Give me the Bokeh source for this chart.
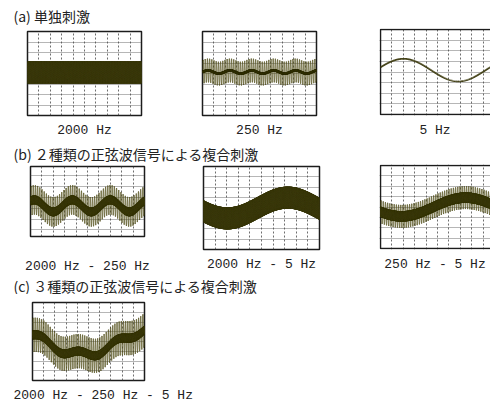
import numpy as np
from bokeh.plotting import figure
from bokeh.models import Grid, FixedTicker, Range1d, Title, Label, LinearAxis
from bokeh.layouts import column, row
from bokeh.embed import file_html
from bokeh.resources import INLINE

# ---------------- texts ----------------
section_titles = ["(a)  単独刺激",
                  "(b)  ２種類の正弦波信号による複合刺激",
                  "(c)  ３種類の正弦波信号による複合刺激"]
panel_labels = ["2000 Hz", "250 Hz", "5 Hz",
                "2000 Hz - 250 Hz", "2000 Hz - 5 Hz", "250 Hz - 5 Hz",
                "2000 Hz - 250 Hz - 5 Hz"]

# ---------------- oscilloscope graticule (10 x 8 divisions) ----------------
grid_x_ticks = [1, 2, 3, 4, 5, 6, 7, 8, 9]
grid_y_ticks = [-3, -2, -1, 0, 1, 2, 3]

# ---------------- signal parameters read from each screen ----------------
# amplitudes in divisions, cycles per full screen width (10 div)
stripe_cycles = 52      # 250 Hz component on screen
dense_cycles = 414      # 2000 Hz component on screen
dc_offset   = [0.10, 0.14, 0.18, 0.20, 0.00, 0.00, 0.00]
slow_amp    = [0.00, 0.00, 1.06, 0.00, 1.00, 0.90, 1.35]   # 5 Hz component
slow_cycles = [0.00, 0.00, 1.04, 0.00, 0.96, 0.89, 0.75]
slow_phase  = [0.00, 0.00, 0.25, 0.00, 3.47, 3.68, 2.62]
beat_amp    = [0.00, 0.15, 0.00, 0.55, 0.00, 0.00, 0.35]   # visible beat of the trace
beat_cycles = [0.0, 5.2, 0.0, 3.0, 0.0, 0.0, 3.0]
beat_phase  = [0.0, 0.0, 0.0, 0.94, 0.0, 0.0, 0.0]
stripe_amp  = [0.00, 1.13, 0.00, 1.35, 0.00, 1.10, 1.75]   # 250 Hz stripes
dense_amp   = [1.05, 0.12, 0.00, 0.40, 1.06, 0.50, 0.45]   # 2000 Hz band / core

INK_DARK = "#3b390d"
INK_STRIPE = "#57531f"
GRID_COLOR = "#4a4a4a"
FRAME_COLOR = "#1c1c1c"
LABEL_FONT = "Liberation Mono"
TITLE_FONT = "Noto Sans CJK JP"
TEXT_COLOR = "#222222"

N = 14000
t = np.linspace(0.0, 1.0, N)


def center_trace(i):
    return (dc_offset[i]
            + slow_amp[i] * np.sin(2 * np.pi * slow_cycles[i] * t + slow_phase[i])
            + beat_amp[i] * np.sin(2 * np.pi * beat_cycles[i] * t + beat_phase[i]))


def section_title(text, h, y_off=0):
    p = figure(width=490, height=h, x_range=Range1d(0, 1), y_range=Range1d(0, 1),
               x_axis_type=None, y_axis_type=None, toolbar_location=None,
               output_backend="svg", min_border=0, outline_line_color=None,
               frame_align=False)
    p.add_layout(Label(x=0, y=0.5, x_offset=13, y_offset=y_off, text=text,
                       text_baseline="middle", text_align="left", text_font=TITLE_FONT,
                       text_font_size="14px", text_color=TEXT_COLOR))
    return p


def scope_panel(i, fig_w, fig_h, left, top, frame_w, frame_h, xr, yr,
                clipped=False, align="center", offset=0, label_gap=0):
    p = figure(width=fig_w, height=fig_h, x_range=Range1d(*xr), y_range=Range1d(*yr),
               x_axis_type=None, y_axis_type=None, toolbar_location=None,
               output_backend="svg", frame_align=False,
               min_border_left=left, min_border_right=fig_w - left - frame_w,
               min_border_top=top, min_border_bottom=fig_h - top - frame_h)
    if clipped:
        p.outline_line_color = None
        p.line([10.6, 0, 0, 10.6], [4, 4, -4, -4], line_color=FRAME_COLOR, line_width=1.5)
    else:
        p.outline_line_color = FRAME_COLOR
        p.outline_line_width = 1.5
        p.outline_line_alpha = 1.0
    gx = Grid(dimension=0, ticker=FixedTicker(ticks=grid_x_ticks), grid_line_color=GRID_COLOR,
              grid_line_dash="2 2", grid_line_width=1, grid_line_alpha=0.8)
    gy = Grid(dimension=1, ticker=FixedTicker(ticks=grid_y_ticks), grid_line_color=GRID_COLOR,
              grid_line_dash="1 1", grid_line_width=1, grid_line_alpha=0.8)
    p.add_layout(gx, "center")
    p.add_layout(gy, "center")

    x = 10.0 * t
    c = center_trace(i)
    if stripe_amp[i] > 0:
        p.line(x, c + stripe_amp[i] * np.sin(2 * np.pi * stripe_cycles * t),
               line_color=INK_STRIPE, line_width=0.9)
    if dense_amp[i] > 0:
        p.line(x, c + dense_amp[i] * np.sin(2 * np.pi * dense_cycles * t),
               line_color=INK_DARK, line_width=1.0)
    if stripe_amp[i] == 0 and dense_amp[i] == 0:
        p.line(x, c, line_color=INK_DARK, line_width=1.8)

    if label_gap > 0:
        # caption set further below a shorter screen, as an axis label without ticks
        cap = LinearAxis(ticker=FixedTicker(ticks=[]), axis_line_color=None,
                         major_tick_line_color=None, minor_tick_line_color=None,
                         major_tick_in=0, major_tick_out=0, minor_tick_in=0, minor_tick_out=0,
                         major_label_standoff=0, axis_label=panel_labels[i],
                         axis_label_standoff=label_gap, axis_label_text_font=LABEL_FONT,
                         axis_label_text_font_size="13px", axis_label_text_font_style="normal",
                         axis_label_text_color=TEXT_COLOR)
        p.add_layout(cap, "below")
    else:
        p.add_layout(Title(text=panel_labels[i], align=align, offset=offset,
                           text_font=LABEL_FONT, text_font_size="13px",
                           text_font_style="normal", text_color=TEXT_COLOR), "below")
    return p


full_x = (0, 10)
full_y = (-4, 4)
clip_x = (-0.088, 9.649)
clip_y = (-4.092, 4.092)

a1 = scope_panel(0, 180, 114, 27, 3, 114, 87, full_x, full_y, offset=1)
a2 = scope_panel(1, 180, 114, 22, 3, 114, 85, full_x, full_y, offset=1)
a3 = scope_panel(2, 130, 114, 19, 0, 111, 89, clip_x, clip_y, clipped=True, offset=2)

b1 = scope_panel(3, 180, 112, 30, 2, 114, 70, full_x, (-2.6, 3.8), label_gap=22)
b2 = scope_panel(4, 180, 112, 23, 2, 116, 87, full_x, full_y, offset=-1)
b3 = scope_panel(5, 130, 112, 19, 0, 111, 89, clip_x, clip_y, clipped=True, offset=-2)

c1 = scope_panel(6, 490, 113, 32, 8, 112, 83, full_x, full_y, align="left", offset=-19)

layout = column(
    section_title(section_titles[0], 28, y_off=-1),
    row(a1, a2, a3),
    section_title(section_titles[1], 22),
    row(b1, b2, b3),
    section_title(section_titles[2], 18),
    c1,
)

open("out.html", "w").write(file_html(layout, INLINE))
